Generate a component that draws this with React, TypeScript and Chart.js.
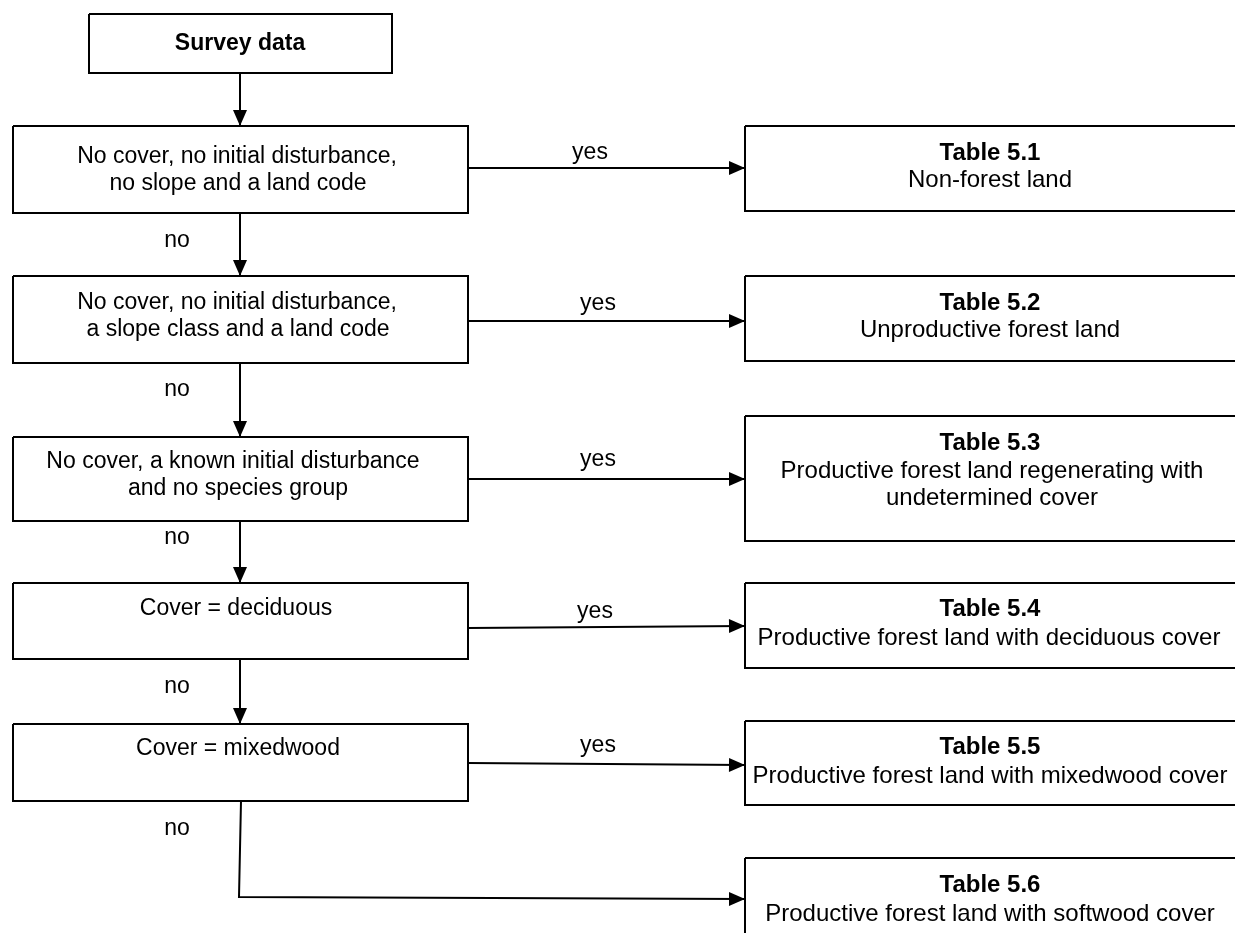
import React, { useEffect, useRef } from 'react';
import { Chart, registerables } from 'chart.js';

Chart.register(...registerables);

// Box outlines (chart data space: x 0..1235, y 0..933 top-down)
const boxX0 = [89, 13, 13, 13, 13, 13, 745, 745, 745, 745, 745, 745];
const boxX1 = [392, 468, 468, 468, 468, 468, 1245, 1245, 1245, 1245, 1245, 1245];
const boxY0 = [14, 126, 276, 437, 583, 724, 126, 276, 416, 583, 721, 858];
const boxY1 = [73, 213, 363, 521, 659, 801, 211, 361, 541, 668, 805, 960];

// Connector paths (last point = arrow tip)
const arrowXs = [
  [240, 240], [240, 240], [240, 240], [240, 240], [240, 240],
  [468, 745], [468, 745], [468, 745], [468, 745], [468, 745],
  [241, 239, 745],
];
const arrowYs = [
  [73, 126], [213, 276], [363, 437], [521, 583], [659, 724],
  [168, 168], [321, 321], [479, 479], [628, 626], [763, 765],
  [801, 897, 899],
];

// Text labels
const labelText = [
  'Survey data',
  'No cover, no initial disturbance,', 'no slope and a land code',
  'No cover, no initial disturbance,', 'a slope class and a land code',
  'No cover, a known initial disturbance', 'and no species group',
  'Cover = deciduous',
  'Cover = mixedwood',
  'Table 5.1', 'Non-forest land',
  'Table 5.2', 'Unproductive forest land',
  'Table 5.3', 'Productive forest land regenerating with', 'undetermined cover',
  'Table 5.4', 'Productive forest land with deciduous cover',
  'Table 5.5', 'Productive forest land with mixedwood cover',
  'Table 5.6', 'Productive forest land with softwood cover',
  'no', 'no', 'no', 'no', 'no',
  'yes', 'yes', 'yes', 'yes', 'yes',
];
const labelX = [
  240,
  237, 238, 237, 238, 233, 238, 236, 238,
  990, 990, 990, 990, 990, 992, 992, 990, 989, 990, 990, 990, 990,
  177, 177, 177, 177, 177,
  590, 598, 598, 595, 598,
];
const labelY = [
  44,
  157, 184, 303, 330, 462, 489, 609, 749,
  153, 180, 303, 330, 443, 471, 498, 609, 638, 747, 776, 885, 914,
  241, 390, 538, 687, 829,
  153, 304, 460, 612, 746,
];
const labelBold = [
  true,
  false, false, false, false, false, false, false, false,
  true, false, true, false, true, false, false, true, false, true, false, true, false,
  false, false, false, false, false,
  false, false, false, false, false,
];
const labelLarge = [
  false,
  false, false, false, false, false, false, false, false,
  true, true, true, true, true, true, true, true, true, true, true, true, true,
  false, false, false, false, false,
  false, false, false, false, false,
];

const FONT = '"Liberation Sans", Arial, sans-serif';

const arrowPlugin = {
  id: 'arrowHeads',
  afterDatasetsDraw(chart: any) {
    const ctx = chart.ctx;
    chart.data.datasets.forEach((ds: any, i: number) => {
      if (!ds.isArrow) return;
      const meta = chart.getDatasetMeta(i);
      const pts = meta.data;
      if (pts.length < 2) return;
      const a = pts[pts.length - 2];
      const b = pts[pts.length - 1];
      const ang = Math.atan2(b.y - a.y, b.x - a.x);
      const len = 16;
      const half = 7;
      ctx.save();
      ctx.translate(b.x, b.y);
      ctx.rotate(ang);
      ctx.beginPath();
      ctx.moveTo(0, 0);
      ctx.lineTo(-len, -half);
      ctx.lineTo(-len, half);
      ctx.closePath();
      ctx.fillStyle = '#000';
      ctx.fill();
      ctx.restore();
    });
  },
};

const labelPlugin = {
  id: 'flowLabels',
  afterDatasetsDraw(chart: any) {
    const ctx = chart.ctx;
    const sx = chart.scales.x;
    const sy = chart.scales.y;
    ctx.save();
    ctx.fillStyle = '#000';
    ctx.textAlign = 'center';
    ctx.textBaseline = 'middle';
    labelText.forEach((t, i) => {
      const size = labelLarge[i] ? 24 : 23;
      ctx.font = `${labelBold[i] ? 'bold ' : ''}${size}px ${FONT}`;
      ctx.fillText(t, sx.getPixelForValue(labelX[i]), sy.getPixelForValue(labelY[i]));
    });
    ctx.restore();
  },
};

export default function App() {
  const canvasRef = useRef<HTMLCanvasElement | null>(null);

  useEffect(() => {
    document.body.style.margin = '0';
    document.body.style.background = '#ffffff';
    const canvas = canvasRef.current;
    if (!canvas) return;

    const datasets: any[] = [];
    boxX0.forEach((_, i) => {
      datasets.push({
        data: [
          { x: boxX0[i], y: boxY0[i] },
          { x: boxX1[i], y: boxY0[i] },
          { x: boxX1[i], y: boxY1[i] },
          { x: boxX0[i], y: boxY1[i] },
          { x: boxX0[i], y: boxY0[i] },
        ],
        showLine: true,
        borderColor: '#000',
        borderWidth: 2,
        pointRadius: 0,
        tension: 0,
        fill: false,
      });
    });
    arrowXs.forEach((xs, i) => {
      datasets.push({
        data: xs.map((x, j) => ({ x, y: arrowYs[i][j] })),
        showLine: true,
        borderColor: '#000',
        borderWidth: 2,
        pointRadius: 0,
        tension: 0,
        fill: false,
        isArrow: true,
      });
    });

    const chart = new Chart(canvas, {
      type: 'scatter',
      data: { datasets },
      options: {
        animation: false,
        responsive: false,
        devicePixelRatio: 1,
        events: [],
        layout: { padding: 0 },
        plugins: { legend: { display: false }, tooltip: { enabled: false } },
        scales: {
          x: { type: 'linear', min: 0, max: 1235, display: false },
          y: { type: 'linear', min: 0, max: 933, reverse: true, display: false },
        },
      },
      plugins: [arrowPlugin, labelPlugin],
    });
    return () => chart.destroy();
  }, []);

  return (
    <div style={{ width: 1235, height: 933, background: '#fff' }}>
      <canvas ref={canvasRef} width={1235} height={933} style={{ display: 'block' }} />
    </div>
  );
}
